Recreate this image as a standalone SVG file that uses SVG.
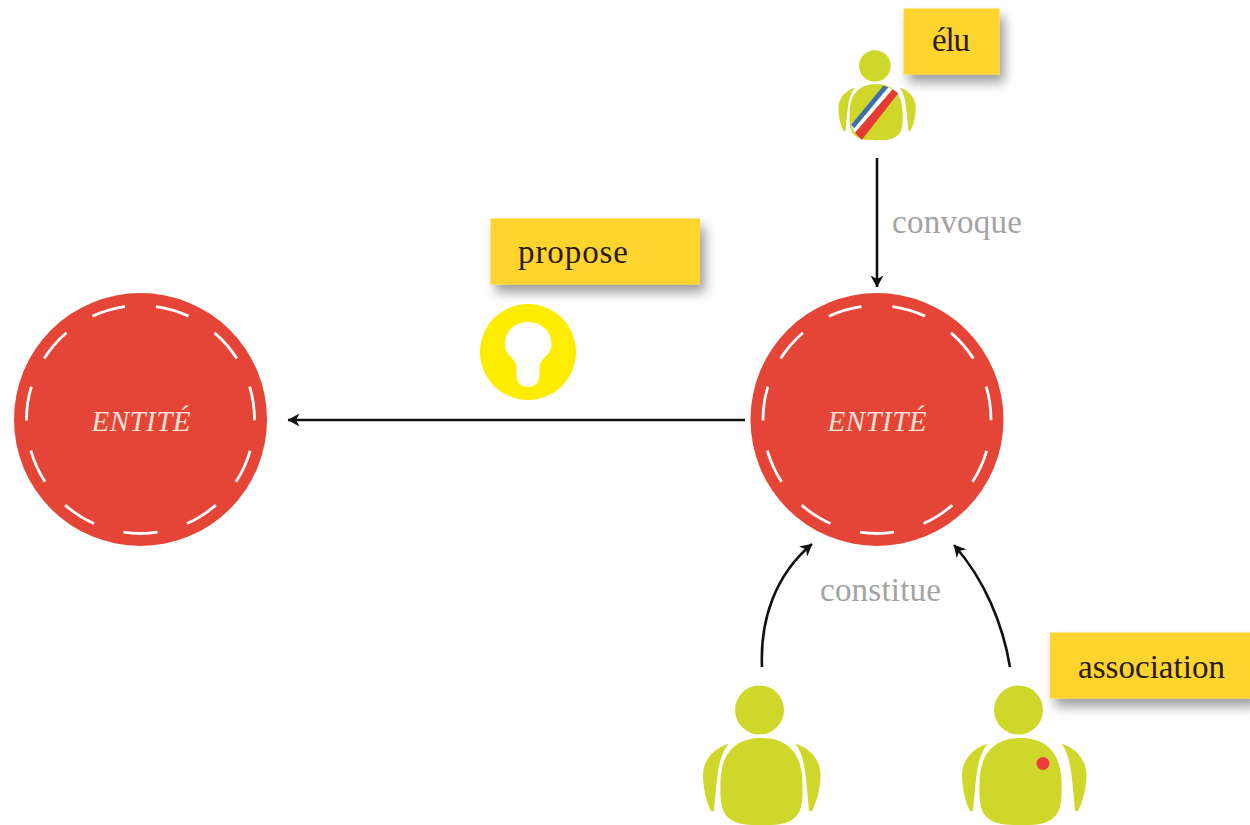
<svg xmlns="http://www.w3.org/2000/svg" width="1250" height="825" viewBox="0 0 1250 825">
<style>
.disc{fill:#E54537}
.stitch{fill:none;stroke:#fff;stroke-width:2.8;stroke-dasharray:17.2 15.527}
.ent{font-family:"Liberation Serif",serif;font-style:italic;font-size:29px;fill:#F7E3D6;text-anchor:middle}
.tag{fill:#FFD42F;filter:url(#sh)}
.tagt{font-family:"Liberation Serif",serif;font-size:33px;fill:#2A1A10}
.verb{font-family:"Liberation Serif",serif;font-size:33px;fill:#A3A3A3}
.link{fill:none;stroke:#111;stroke-width:2.6;marker-end:url(#ah)}
.skin{fill:#CFD82A}
</style>
<defs>
<filter id="sh" x="-20%" y="-30%" width="145%" height="175%"><feDropShadow dx="5" dy="8" stdDeviation="6" flood-color="#000" flood-opacity="0.38"/></filter>
<marker id="ah" markerUnits="userSpaceOnUse" markerWidth="16" markerHeight="16" refX="12" refY="7" orient="auto"><path d="M0.500 0.500L12.500 7L0.500 13.500L4 7Z" fill="#111"/></marker>
<g id="person">
<circle class="skin" cx="759.500" cy="710" r="24.500"/>
<path class="skin" d="M761.500 738C789 738 802 755 802.500 782C803 802 802 813 793 819C785 825 775 825 761.500 825C748 825 738 825 730 819C721 813 720 802 720.500 782C721 755 734 738 761.500 738Z"/>
<path class="skin" d="M729 743.500C714 748 703 760 703 775C703 790 707 803 711 811L714 811C715 800 716 787 717.500 775C719 762 723 750 729 743.500Z"/>
</g>
<path id="arm-r" class="skin" d="M795 743.500C810 748 820.500 760 820.500 775C820.500 790 816 803 812 811L809 811C808 800 807 787 805.500 775C804 762 801 750 795 743.500Z"/>
</defs>
<g id="connectors">
<path class="link" d="M877 158V287"/>
<path class="link" d="M745 420H288"/>
<path class="link" d="M762 667C760 620 775 575 812 544"/>
<path class="link" d="M1010 667C1003 625 985 580 954 545"/>
</g>
<g id="entite-gauche">
<circle class="disc" cx="140.500" cy="419.500" r="126.500"/>
<circle class="stitch" cx="140.500" cy="419.500" r="114" pathLength="360" transform="rotate(81.4 140.500 419.500)"/>
<text class="ent" x="141" y="431" textLength="99">ENTITÉ</text>
</g>
<g id="entite-droite">
<circle class="disc" cx="877" cy="419.500" r="126.500"/>
<circle class="stitch" cx="877" cy="419.500" r="114" pathLength="360" transform="rotate(81.4 877 419.500)"/>
<text class="ent" x="877" y="431" textLength="99">ENTITÉ</text>
</g>
<g id="elu">
<g transform="translate(385 -392) scale(0.645)"><use href="#person"/><use href="#arm-r" x="2.500"/></g>
<polygon fill="#fff" points="888.300,87.300 892.700,89.300 855,132.700 851,126"/>
<polygon fill="#3F6FB0" points="883.300,85.700 888.300,87.300 854.300,128.300 851,125"/>
<polygon fill="#E63A34" points="892.700,89.300 898.300,93.300 861.700,140 855,132.700"/>
<rect class="tag" x="903.500" y="8.500" width="96" height="66"/>
<text class="tagt" x="932" y="51" textLength="38">élu</text>
</g>
<g id="propose">
<rect class="tag" x="490.500" y="218.500" width="209.500" height="66"/>
<text class="tagt" x="518" y="263" textLength="110">propose</text>
<circle cx="528" cy="352" r="48" fill="#FFED00"/>
<path fill="#fff" d="M516.500 374V368C516.500 363 514 360 511 357C506.500 353 505 349 505 344C505 331 515 322 528 322C541 322 551.500 331 551.500 344C551.500 349 549.500 353 545 357C542 360 539.500 363 539.500 368V374C539.500 383 535 387 528 387C521 387 516.500 383 516.500 374Z"/>
</g>
<g id="personne">
<use href="#person"/><use href="#arm-r"/>
</g>
<g id="association">
<use href="#person" x="259"/><use href="#arm-r" x="266"/>
<circle cx="1043" cy="763.500" r="6.500" fill="#EE3B3B"/>
<rect class="tag" x="1050" y="632.500" width="205" height="66"/>
<text class="tagt" x="1078" y="678" textLength="147">association</text>
</g>
<g id="labels">
<text class="verb" x="892" y="233" textLength="130">convoque</text>
<text class="verb" x="820" y="601" textLength="121">constitue</text>
</g>
</svg>
